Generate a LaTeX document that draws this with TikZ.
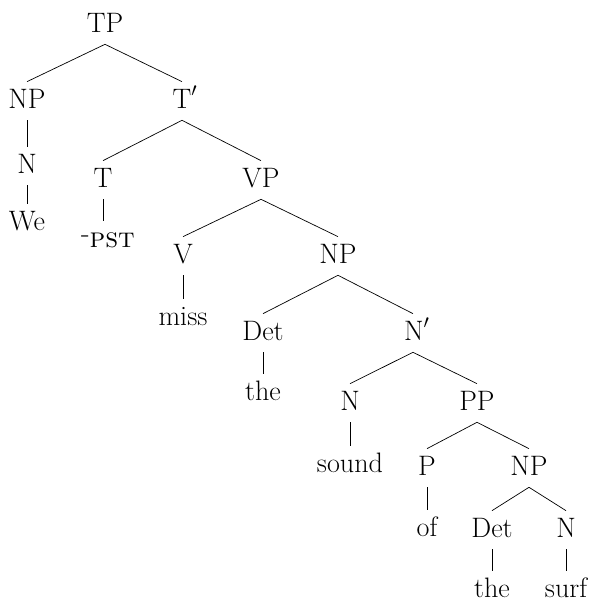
\documentclass[tikz,border=0pt]{standalone}
\usepackage{tikz}

\begin{document}
\begin{tikzpicture}[x=0.02cm, y=-0.02cm,
        cat/.style={anchor=base, inner sep=0pt, outer sep=4pt, text height=11pt, text depth=3pt,
                    font=\fontsize{16}{19}\selectfont}]
        \useasboundingbox (0,0) rectangle (592,600);

        % categories
        \node[cat] (tp) at (105, 32) {TP};
        \node[cat] (np1) at (27, 108) {NP};
        \node[cat] (tbar) at (185, 108) {T$'$};
        \node[cat] (n1) at (27, 173) {N};
        \node[cat] (t) at (103, 187) {T};
        \node[cat] (vp) at (261, 187) {VP};
        \node[cat] (v) at (183, 263) {V};
        \node[cat] (np2) at (338, 263) {NP};
        \node[cat] (det1) at (263, 340) {Det};
        \node[cat] (nbar) at (417, 340) {N$'$};
        \node[cat] (n2) at (350, 410) {N};
        \node[cat] (pp) at (477, 410) {PP};
        \node[cat] (p) at (427, 475) {P};
        \node[cat] (np3) at (529, 475) {NP};
        \node[cat] (det2) at (492, 537) {Det};
        \node[cat] (n3) at (566, 537) {N};

        % words
        \node[cat] (we) at (27, 230) {We};
        \node[cat] (pst) at (108, 247) {\raisebox{2.5pt}{-}\textsc{pst}};
        \node[cat] (miss) at (183, 325) {miss};
        \node[cat] (the1) at (263, 400) {the};
        \node[cat] (sound) at (350, 472) {sound};
        \node[cat] (of) at (427, 536) {of};
        \node[cat] (the2) at (492, 597) {the};
        \node[cat] (surf) at (566, 597) {surf};

        % branches
        \draw (tp.south) -- (np1.north);
        \draw (tp.south) -- (tbar.north -| 182,0);
        \draw (np1.south) -- (n1.north);
        \draw (n1.south) -- (we.north);
        \draw (tbar.south -| 182,0) -- (t.north);
        \draw (tbar.south -| 182,0) -- (vp.north);
        \draw (t.south) -- (pst.north -| t.south);
        \draw (vp.south) -- (v.north);
        \draw (vp.south) -- (np2.north);
        \draw (v.south) -- (miss.north);
        \draw (np2.south) -- (det1.north);
        \draw (np2.south) -- (nbar.north -| 413,0);
        \draw (det1.south) -- (the1.north);
        \draw (nbar.south -| 413,0) -- (n2.north);
        \draw (nbar.south -| 413,0) -- (pp.north);
        \draw (n2.south) -- (sound.north);
        \draw (pp.south) -- (p.north);
        \draw (pp.south) -- (np3.north);
        \draw (p.south) -- (of.north);
        \draw (np3.south) -- (det2.north);
        \draw (np3.south) -- (n3.north);
        \draw (det2.south) -- (the2.north);
        \draw (n3.south) -- (surf.north);
\end{tikzpicture}
\end{document}
